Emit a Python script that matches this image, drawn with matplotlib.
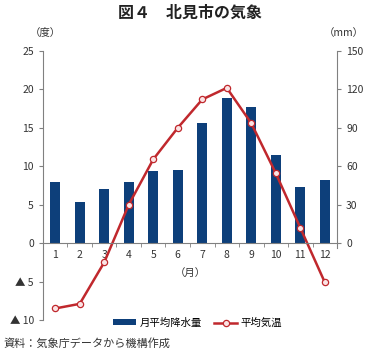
import matplotlib
matplotlib.use('Agg')
import matplotlib.pyplot as plt
import numpy as np

plt.rcParams['font.family'] = ['Noto Sans CJK JP', 'DejaVu Sans']

months = np.arange(1, 13)
month_labels = [str(m) for m in months]
rain = [47.4, 32.3, 42.4, 47.4, 56.5, 57.3, 94.0, 113.0, 106.0, 69.0, 43.7, 49.2]
temp = [-8.5, -7.9, -2.5, 5.0, 10.9, 15.0, 18.7, 20.2, 15.6, 9.1, 2.0, -5.1]

left_ticks = [-10, -5, 0, 5, 10, 15, 20, 25]
left_labels = ['▲ 10', '▲ 5', '0', '5', '10', '15', '20', '25']
right_ticks = [0, 30, 60, 90, 120, 150]

bar_color = '#0d3f7a'
line_color = '#c0282d'
grey = '#808080'
txt = '#333333'

fig = plt.figure(figsize=(3.8, 3.53), dpi=100)
ax = fig.add_axes([0.113, 0.0935, 0.774, 0.762])
ax2 = ax.twinx()

ax2.bar(months, rain, width=0.42, color=bar_color, label='月平均降水量')
ax2.set_ylim(-60, 150)
ax2.set_yticks(right_ticks)
ax2.tick_params(axis='y', labelsize=7.5, colors=grey, labelcolor=txt, length=3, direction='out')
for s in ['left', 'top', 'bottom']:
    ax2.spines[s].set_visible(False)
ax2.spines['right'].set_bounds(-4, 150)
ax2.spines['right'].set_color(grey)

ax.plot(months, temp, color=line_color, lw=1.8, marker='o', markersize=4.5,
        markerfacecolor='#fbe3e4', markeredgecolor=line_color, markeredgewidth=0.9,
        label='平均気温')
ax.set_zorder(ax2.get_zorder() + 1)
ax.patch.set_visible(False)
ax.set_ylim(-10, 25)
ax.set_xlim(0.5, 12.5)
ax.set_yticks(left_ticks)
ax.set_yticklabels(left_labels)
ax.tick_params(axis='y', labelsize=7.5, colors=grey, labelcolor=txt, length=3, direction='out')
ax.set_xticks(months)
ax.set_xticklabels(month_labels)
ax.set_xticks(np.arange(0.5, 13, 1), minor=True)
ax.tick_params(axis='x', which='major', length=0, labelsize=7.5, labelcolor=txt, pad=5)
ax.tick_params(axis='x', which='minor', length=3, colors=grey, direction='out')
ax.spines['bottom'].set_position(('data', 0))
ax.spines['bottom'].set_color(grey)
ax.spines['left'].set_color(grey)
ax.spines['top'].set_visible(False)
ax.spines['right'].set_visible(False)

fig.text(0.5, 0.963, '図４　北見市の気象', ha='center', va='center', fontsize=11.5,
         fontweight='bold', color='#222222')
fig.text(0.118, 0.906, '（度）', ha='center', va='center', fontsize=7.5, color=txt)
fig.text(0.905, 0.906, '（mm）', ha='center', va='center', fontsize=7.5, color=txt)
fig.text(0.5, 0.227, '（月）', ha='center', va='center', fontsize=7.5, color=txt)
fig.text(0.008, 0.028, '資料：気象庁データから機構作成', ha='left', va='center', fontsize=8, color=txt)

h1, l1 = ax2.get_legend_handles_labels()
h2, l2 = ax.get_legend_handles_labels()
fig.legend(h1 + h2, l1 + l2, loc='center', bbox_to_anchor=(0.52, 0.085), ncol=2,
           frameon=False, fontsize=7.5, handlelength=2.2, handleheight=0.5,
           columnspacing=1.2, handletextpad=0.3)

fig.savefig('out.png', dpi=100)
